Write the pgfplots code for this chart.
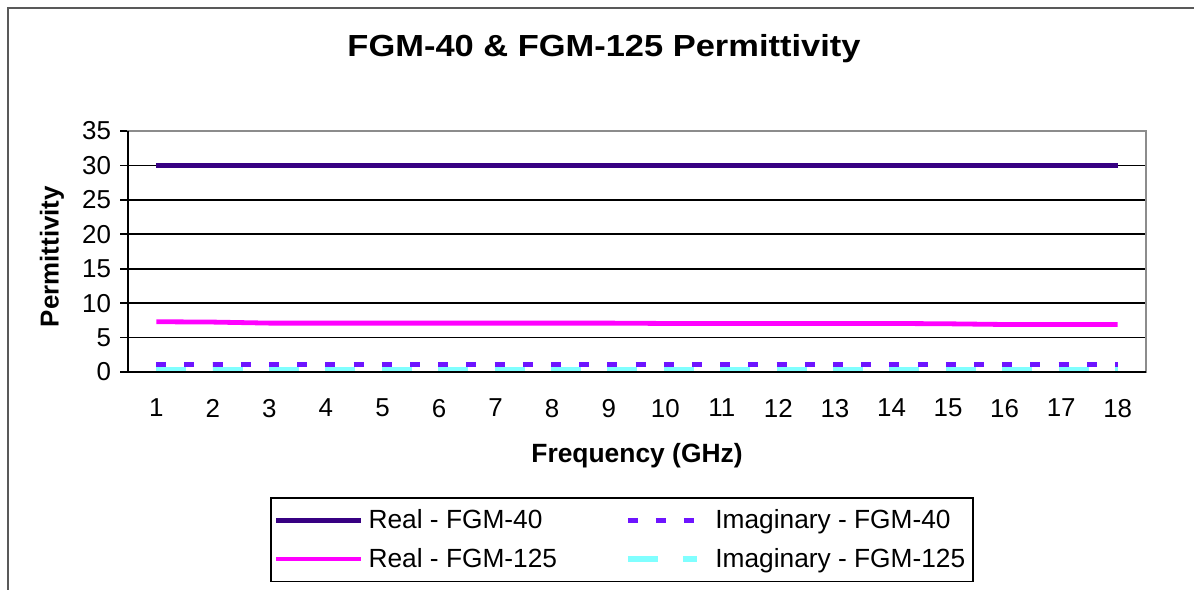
\documentclass[border=0pt]{standalone}
\usepackage{pgfplots}
\pgfplotsset{compat=1.18}
\usepackage{graphicx}
\usepackage{fontspec}
\setmainfont{Liberation Sans}
\definecolor{realforty}{RGB}{55,0,130}
\definecolor{imagforty}{RGB}{110,20,255}
\definecolor{realonetwofive}{RGB}{255,0,255}
\definecolor{imagonetwofive}{RGB}{128,255,255}
\begin{document}
\begin{tikzpicture}
\path[use as bounding box] (0,0) rectangle (597bp,295bp);
\draw[black!65, line width=1.2bp] (4bp,0) -- (4bp,291bp) -- (597bp,291bp);
\node[anchor=base, inner sep=0pt, font=\fontsize{15.3}{18}\selectfont\bfseries] at (302bp,266.5bp) {\scalebox{1.13}[1]{FGM-40 \& FGM-125 Permittivity}};
\begin{axis}[
  at={(64bp,109bp)}, anchor=south west,
  scale only axis, width=509bp, height=120.5bp,
  xmin=0.5, xmax=18.5, ymin=0, ymax=35,
  clip=false,
  axis line style={draw=black!45, line width=0.6bp},
  xtick={1,...,18},
  major x tick style={draw=none},
  extra x ticks={0.5,1.5,...,18.5},
  extra x tick labels={},
  extra x tick style={major tick length=4bp, tick align=outside, tick style={black, line width=0.8bp}, grid=none},
  ytick={0,5,...,35},
  ytick style={black, line width=0.8bp},
  major tick length=4bp,
  tick align=outside,
  xtick pos=bottom, ytick pos=left,
  ymajorgrids,
  major grid style={black, line width=0.8bp},
  tick label style={font=\fontsize{13}{15}\selectfont},
  /pgf/number format/assume math mode=true,
  xticklabel style={yshift=-6bp},
  yticklabel style={xshift=-1bp},
  xlabel={\textbf{Frequency (GHz)}},
  xlabel style={font=\fontsize{13.25}{16}\selectfont, at={(axis description cs:0.5,-0.346)}, anchor=center},
  ylabel={\textbf{Permittivity}},
  ylabel style={font=\fontsize{13}{16}\selectfont, at={(axis description cs:-0.0747,0.479)}, anchor=center},
  legend columns=2,
  legend style={at={(axis description cs:0.1395,-0.5187)}, anchor=north west,
    draw=black, line width=0.8bp, inner sep=1.5bp,
    font=\fontsize{13.2}{15}\selectfont,
    nodes={inner xsep=2.5bp, inner ysep=4.2bp},
    /tikz/every even column/.append style={column sep=31.5bp}},
  legend cell align=left,
  legend image code/.code={\draw[#1, line width=2.4bp] (0bp,0bp) -- (42.5bp,0bp);},
]
\addplot[realforty, line width=2.4bp] coordinates {
(1,30)(2,30)(3,30)(4,30)(5,30)(6,30)(7,30)(8,30)(9,30)(10,30)(11,30)(12,30)(13,30)(14,30)(15,30)(16,30)(17,30)(18,30)};
\addlegendentry{Real - FGM-40}
\addplot[imagforty, line width=2.6bp, dash pattern=on 5bp off 9.1bp,
  legend image code/.code={\draw[imagforty, line width=2.6bp, dash pattern=on 5bp off 9bp] (0bp,0bp) -- (40bp,0bp);}] coordinates {
(1,1.1)(2,1.1)(3,1.1)(4,1.1)(5,1.1)(6,1.1)(7,1.1)(8,1.1)(9,1.1)(10,1.1)(11,1.1)(12,1.1)(13,1.1)(14,1.1)(15,1.1)(16,1.1)(17,1.1)(18,1.1)};
\addlegendentry{Imaginary - FGM-40}
\addplot[realonetwofive, line width=2.4bp] coordinates {
(1,7.3)(2,7.25)(3,7.1)(4,7.1)(5,7.1)(6,7.1)(7,7.1)(8,7.1)(9,7.1)(10,7.05)(11,7.05)(12,7.05)(13,7.05)(14,7.05)(15,7.0)(16,6.9)(17,6.9)(18,6.9)};
\addlegendentry{Real - FGM-125}
\addplot[imagonetwofive, line width=2.6bp, dash pattern=on 15bp off 13.2bp,
  legend image code/.code={\draw[imagonetwofive, line width=2.6bp] (0bp,0bp) -- (15bp,0bp) (27.5bp,0bp) -- (34.5bp,0bp);}] coordinates {
(1,0.35)(2,0.35)(3,0.35)(4,0.35)(5,0.35)(6,0.35)(7,0.35)(8,0.35)(9,0.35)(10,0.35)(11,0.35)(12,0.35)(13,0.35)(14,0.35)(15,0.35)(16,0.35)(17,0.35)(18,0.35)};
\addlegendentry{Imaginary - FGM-125}
\draw[black, line width=0.8bp] (rel axis cs:0,1) -- (rel axis cs:0,0) -- (rel axis cs:1,0);
\end{axis}
\end{tikzpicture}
\end{document}
